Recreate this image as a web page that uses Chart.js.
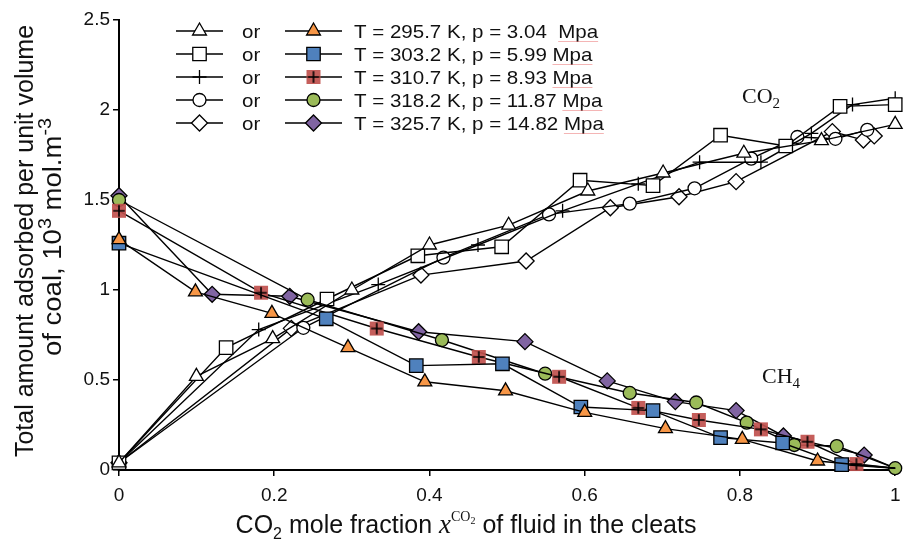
<!DOCTYPE html>
<html>
<head>
<meta charset="utf-8">
<script src="https://cdn.jsdelivr.net/npm/chart.js@4.4.1/dist/chart.umd.min.js"></script>
<style>
  html, body { margin: 0; padding: 0; background: #fff; }
  #wrap { width: 906px; height: 550px; }
</style>
</head>
<body>
<div id="wrap"><canvas id="chart" width="906" height="550"></canvas></div>
<script>
// CO2 adsorbed (hollow markers), one pair of arrays per isotherm
const co2X295 = [0, 0.0997, 0.198, 0.30, 0.40, 0.502, 0.604, 0.701, 0.805, 0.905, 1.0];
const co2Y295 = [0.04, 0.52, 0.73, 1.00, 1.25, 1.36, 1.55, 1.65, 1.76, 1.83, 1.92];
const co2X303 = [0, 0.138, 0.268, 0.385, 0.493, 0.594, 0.688, 0.775, 0.859, 0.929, 1.0];
const co2Y303 = [0.04, 0.68, 0.95, 1.19, 1.24, 1.61, 1.58, 1.86, 1.80, 2.02, 2.03];
const co2X310 = [0, 0.18, 0.334, 0.4625, 0.5715, 0.669, 0.748, 0.827, 0.892, 0.945, 1.0];
const co2Y310 = [0.04, 0.78, 1.03, 1.25, 1.44, 1.59, 1.71, 1.71, 1.87, 2.03, 2.065];
const co2X318 = [0, 0.2375, 0.418, 0.554, 0.658, 0.7415, 0.8145, 0.874, 0.923, 0.964];
const co2Y318 = [0.04, 0.79, 1.18, 1.42, 1.48, 1.565, 1.73, 1.85, 1.84, 1.89];
const co2X325 = [0, 0.222, 0.389, 0.5245, 0.633, 0.7215, 0.795, 0.919, 0.959, 0.973];
const co2Y325 = [0.04, 0.787, 1.083, 1.161, 1.457, 1.518, 1.602, 1.88, 1.833, 1.856];

// CH4 adsorbed (filled markers)
const ch4X295 = [0, 0.0985, 0.197, 0.295, 0.394, 0.498, 0.60, 0.704, 0.803, 0.90, 1.0];
const ch4Y295 = [1.28, 0.99, 0.87, 0.68, 0.49, 0.44, 0.32, 0.23, 0.17, 0.05, 0.01];
const ch4X303 = [0, 0.267, 0.383, 0.494, 0.595, 0.688, 0.775, 0.855, 0.931, 1.0];
const ch4Y303 = [1.26, 0.84, 0.58, 0.59, 0.35, 0.33, 0.18, 0.15, 0.03, 0.01];
const ch4X310 = [0, 0.183, 0.332, 0.4635, 0.567, 0.669, 0.747, 0.827, 0.887, 0.95, 1.0];
const ch4Y310 = [1.44, 0.985, 0.786, 0.628, 0.518, 0.345, 0.278, 0.226, 0.157, 0.033, 0.01];
const ch4X318 = [0, 0.243, 0.416, 0.549, 0.658, 0.7437, 0.8087, 0.87, 0.9247, 1.0];
const ch4Y318 = [1.50, 0.946, 0.722, 0.535, 0.428, 0.375, 0.263, 0.139, 0.133, 0.01];
const ch4X325 = [0, 0.12, 0.22, 0.386, 0.523, 0.629, 0.7167, 0.795, 0.856, 0.96, 1.0];
const ch4Y325 = [1.524, 0.976, 0.965, 0.768, 0.713, 0.495, 0.38, 0.33, 0.189, 0.083, 0.01];

const legendLabels = [
  'T = 295.7 K, p = 3.04  Mpa',
  'T = 303.2 K, p = 5.99 Mpa',
  'T = 310.7 K, p = 8.93 Mpa',
  'T = 318.2 K, p = 11.87 Mpa',
  'T = 325.7 K, p = 14.82 Mpa'
];

const xTickValues = [0, 0.2, 0.4, 0.6, 0.8, 1];
const xTickLabels = ['0', '0.2', '0.4', '0.6', '0.8', '1'];
const yTickValues = [0, 0.5, 1, 1.5, 2, 2.5];
const yTickLabels = ['0', '0.5', '1', '1.5', '2', '2.5'];

const co2Series = [[co2X295, co2Y295], [co2X303, co2Y303], [co2X310, co2Y310], [co2X318, co2Y318], [co2X325, co2Y325]];
const ch4Series = [[ch4X295, ch4Y295], [ch4X303, ch4Y303], [ch4X310, ch4Y310], [ch4X318, ch4Y318], [ch4X325, ch4Y325]];

// red square with a black plus, used for the 310.7 K methane points
function plusSquare(size) {
  const c = document.createElement('canvas');
  c.width = c.height = size;
  const g = c.getContext('2d');
  g.fillStyle = 'rgba(192,80,77,0.92)';
  g.fillRect(1, 1, size - 2, size - 2);
  g.strokeStyle = '#000';
  g.lineWidth = 1.6;
  const m = size / 2, a = size * 0.36;
  g.beginPath();
  g.moveTo(m - a, m); g.lineTo(m + a, m);
  g.moveTo(m, m - a); g.lineTo(m, m + a);
  g.stroke();
  return c;
}
const redPlus = plusSquare(16);

// marker per temperature: hollow for CO2, filled for CH4
const markers = [
  { style: 'triangle', radius: 8, fill: '#F79646' },
  { style: 'rect', radius: 9.5, fill: '#4F81BD' },
  { style: 'cross', radius: 7, fill: null },
  { style: 'circle', radius: 6.5, fill: '#9BBB59' },
  { style: 'rectRot', radius: 8, fill: '#8064A2' }
];

function toPoints(xs, ys) {
  return xs.map((x, i) => ({ x: x, y: ys[i] }));
}

// hideEnd: the pure-CO2 end of a methane curve only carries the line
function lineSet(xs, ys, m, filled, hideEnd) {
  const custom = filled && m.style === 'cross';
  const radius = hideEnd ? xs.map((x, i) => (i === xs.length - 1 ? 0 : m.radius)) : m.radius;
  return {
    data: toPoints(xs, ys),
    showLine: true,
    borderColor: '#000',
    borderWidth: 1.4,
    pointStyle: custom ? redPlus : m.style,
    pointRadius: radius,
    pointBackgroundColor: filled ? (m.fill || '#fff') : '#fff',
    pointBorderColor: '#000',
    pointBorderWidth: 1.3,
    tension: 0,
    clip: false
  };
}

const datasets = [];
ch4Series.forEach((s, i) => datasets.push(lineSet(s[0], s[1], markers[i], true, i !== 3)));
co2Series.forEach((s, i) => datasets.push(lineSet(s[0], s[1], markers[i], false, false)));

// draws a run of text pieces with their own fonts and baseline shifts
function richText(ctx, parts, x, y, align, sx) {
  let w = 0;
  parts.forEach(p => { ctx.font = p[1]; w += ctx.measureText(p[0]).width; });
  ctx.save();
  ctx.translate(x, y);
  ctx.scale(sx || 1, 1);
  ctx.textAlign = 'left';
  ctx.textBaseline = 'alphabetic';
  let cx = align === 'center' ? -w / 2 : 0;
  parts.forEach(p => {
    ctx.font = p[1];
    ctx.fillText(p[0], cx, p[2] || 0);
    cx += ctx.measureText(p[0]).width;
  });
  ctx.restore();
}

function marker(ctx, m, filled, x, y) {
  ctx.save();
  ctx.lineWidth = 1.3;
  ctx.strokeStyle = '#000';
  ctx.fillStyle = filled ? (m.fill || '#fff') : '#fff';
  const style = filled && m.style === 'cross' ? redPlus : m.style;
  Chart.helpers.drawPoint(ctx, { pointStyle: style, radius: m.radius, rotation: 0, borderWidth: 1.3 }, x, y);
  ctx.restore();
}

const SANS = '"Liberation Sans", Arial, sans-serif';
const SERIF = '"Liberation Serif", "DejaVu Serif", serif';

const decorations = {
  id: 'decorations',
  afterDraw(chart) {
    const ctx = chart.ctx;
    ctx.save();
    ctx.fillStyle = '#111';

    // legend
    legendLabels.forEach((label, i) => {
      const y = 31 + i * 23;
      ctx.strokeStyle = '#000';
      ctx.lineWidth = 1.3;
      ctx.beginPath();
      ctx.moveTo(176, y); ctx.lineTo(223, y);
      ctx.moveTo(285, y); ctx.lineTo(342, y);
      ctx.stroke();
      marker(ctx, markers[i], false, 199.5, y);
      marker(ctx, markers[i], true, 313.5, y);
      ctx.fillStyle = '#111';
      richText(ctx, [['or', '19px ' + SANS]], 242, y + 7, 'left', 1.08);
      richText(ctx, [[label, '19px ' + SANS]], 354, y + 7, 'left', 1.08);
      // spell-check underline under the unit
      ctx.font = '19px ' + SANS;
      const full = ctx.measureText(label).width * 1.08;
      const unit = ctx.measureText('Mpa').width * 1.08;
      ctx.strokeStyle = 'rgba(235,120,120,0.55)';
      ctx.lineWidth = 1;
      ctx.beginPath();
      ctx.moveTo(354 + full - unit, y + 10.5); ctx.lineTo(354 + full, y + 10.5);
      ctx.stroke();
    });

    // gas labels inside the plot
    ctx.fillStyle = '#111';
    richText(ctx, [['CO', '22px ' + SERIF], ['2', '15px ' + SERIF, 5]], 761, 103, 'center');
    richText(ctx, [['CH', '22px ' + SERIF], ['4', '15px ' + SERIF, 5]], 781, 383, 'center');

    // x axis title
    richText(ctx, [
      ['CO', '25px ' + SANS],
      ['2', '16px ' + SANS, 6],
      [' mole fraction ', '25px ' + SANS],
      ['x', 'italic 27px ' + SERIF],
      ['CO', '14px ' + SERIF, -12],
      ['2', '10px ' + SERIF, -9],
      [' of fluid in the cleats', '25px ' + SANS]
    ], 466, 533, 'center');

    // y axis title, two lines rotated
    ctx.save();
    ctx.translate(24, 241);
    ctx.rotate(-Math.PI / 2);
    richText(ctx, [['Total amount adsorbed per unit volume', '25px ' + SANS]], 0, 9, 'center');
    ctx.restore();
    ctx.save();
    ctx.translate(52, 237);
    ctx.rotate(-Math.PI / 2);
    richText(ctx, [
      ['of coal, 10', '25px ' + SANS],
      ['3', '18px ' + SANS, -10],
      [' mol.m', '25px ' + SANS],
      ['-3', '18px ' + SANS, -10]
    ], 0, 9, 'center', 1.1);
    ctx.restore();

    ctx.restore();
  }
};

new Chart(document.getElementById('chart'), {
  type: 'scatter',
  data: { datasets: datasets },
  options: {
    responsive: false,
    animation: false,
    events: [],
    layout: { padding: { top: 20, right: 8, left: 0, bottom: 0 } },
    plugins: { legend: { display: false }, tooltip: { enabled: false } },
    scales: {
      x: {
        type: 'linear',
        min: 0,
        max: 1,
        afterBuildTicks: s => { s.ticks = xTickValues.map(v => ({ value: v })); },
        // fixed band below the plot; edge labels may overhang the side padding
        afterFit: s => { s.height = 80; s.paddingLeft = 0; s.paddingRight = 0; },
        ticks: {
          callback: (v, i) => xTickLabels[i],
          color: '#111',
          font: { family: SANS, size: 19 },
          padding: 8,
          maxRotation: 0
        },
        grid: { display: true, drawOnChartArea: false, drawTicks: true, tickLength: 6, color: '#000', lineWidth: 1.5 },
        border: { display: true, color: '#000', width: 2 }
      },
      y: {
        type: 'linear',
        min: 0,
        max: 2.5,
        afterBuildTicks: s => { s.ticks = yTickValues.map(v => ({ value: v })); },
        afterFit: s => { s.width = 119; },
        ticks: {
          callback: (v, i) => yTickLabels[i],
          color: '#111',
          font: { family: SANS, size: 19 },
          padding: 3
        },
        grid: { display: true, drawOnChartArea: false, drawTicks: true, tickLength: 6, color: '#000', lineWidth: 1.5 },
        border: { display: true, color: '#000', width: 2 }
      }
    }
  },
  plugins: [decorations]
});
</script>
</body>
</html>
